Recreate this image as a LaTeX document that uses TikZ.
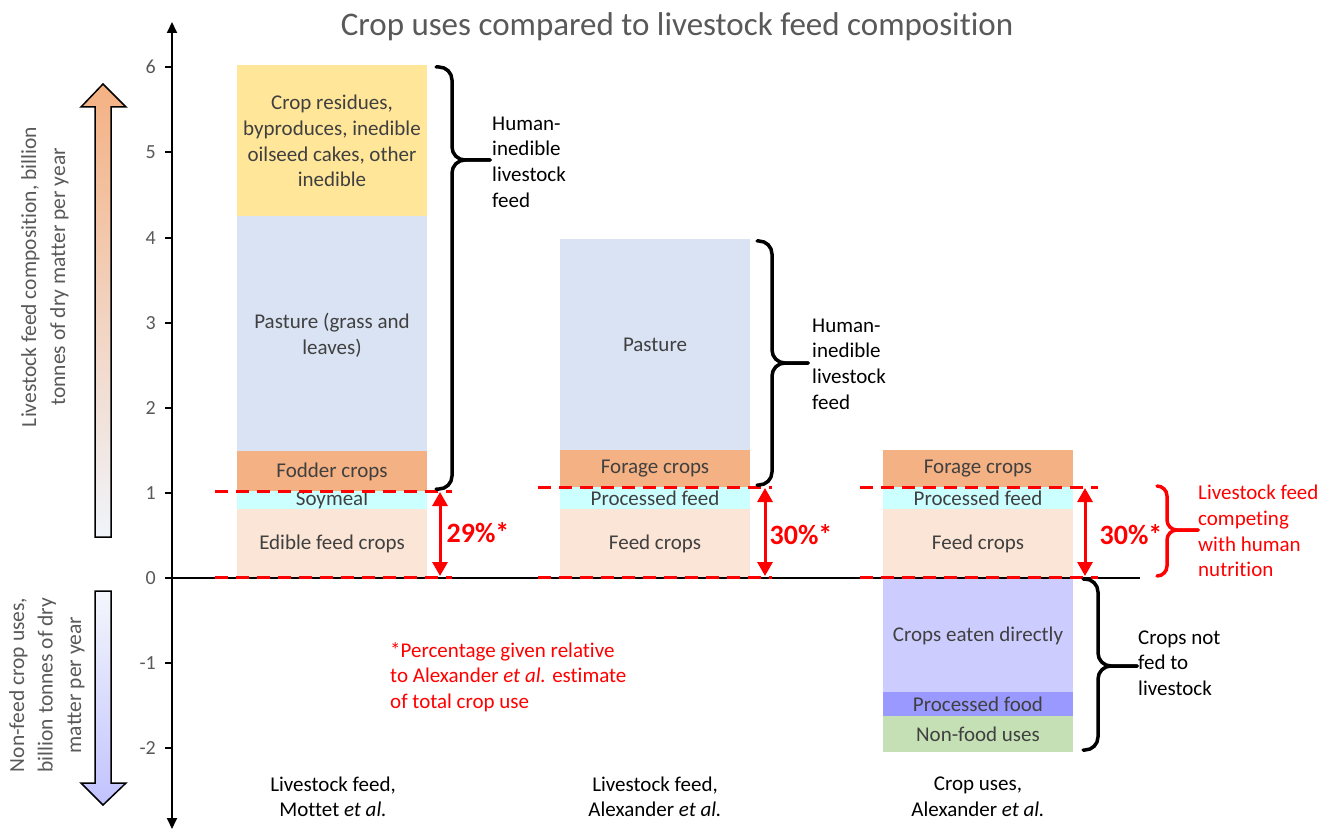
\documentclass[tikz,border=0pt]{standalone}
\usepackage{fontspec}
\setmainfont{Carlito}[Ligatures=NoCommon]
\usetikzlibrary{arrows.meta}
\definecolor{cresid}{HTML}{FFE699}
\definecolor{cpast}{HTML}{DAE3F3}
\definecolor{cfodd}{HTML}{F4B183}
\definecolor{csoy}{HTML}{CCFFFF}
\definecolor{cedib}{HTML}{FBE5D6}
\definecolor{ceat}{HTML}{CCCCFF}
\definecolor{cproc}{HTML}{9999FF}
\definecolor{cnonf}{HTML}{C5E0B4}
\definecolor{cred}{HTML}{FF0000}
\definecolor{tgray}{HTML}{595959}
\definecolor{tdark}{HTML}{404040}
\tikzset{
  barlab/.style={text=tdark, font=\fontsize{21}{25.7}\selectfont, align=center, inner sep=0pt},
  sidelab/.style={text=black, font=\fontsize{21}{25.7}\selectfont, align=left, inner sep=0pt, anchor=west},
  redlab/.style={text=cred, font=\fontsize{21}{25.7}\selectfont, align=left, inner sep=0pt, anchor=west},
  pct/.style={text=cred, font=\bfseries\fontsize{28}{30}\selectfont, inner sep=0pt},
  ticklab/.style={text=tgray, font=\fontsize{20}{22}\selectfont, inner sep=0pt, anchor=east},
  bottomlab/.style={text=black, font=\fontsize{21}{25.5}\selectfont, align=center, inner sep=0pt},
  reddash/.style={cred, line width=3pt, dash pattern=on 13pt off 8pt},
  redarrow/.style={cred, line width=3pt, {Triangle[width=15pt,length=14pt]}-{Triangle[width=15pt,length=14pt]}},
  bracestyle/.style={line width=3.5pt, rounded corners=13pt, line cap=round},
}
\begin{document}
\begin{tikzpicture}[x=1pt,y=-1pt]
\useasboundingbox (0,0) rectangle (1336,829);
\fill[white] (0,0) rectangle (1336,829);

% title
\node[text=tgray, font=\fontsize{33}{36}\selectfont, inner sep=0pt] (title) at (677,27) {Crop uses compared to livestock feed composition};

% side arrows
\shadedraw[top color=cfodd, bottom color=cpast!40!white, draw=black, line width=1.5pt]
  (95,537)--(95,107)--(81,107)--(103,84)--(126,107)--(111,107)--(111,537)--cycle;
\shadedraw[top color=cpast!30!white, bottom color=ceat!80!cproc, draw=black, line width=1.5pt]
  (95,591)--(111,591)--(111,783)--(126,783)--(103,805)--(81,783)--(95,783)--cycle;

\node[text=tgray, font=\fontsize{21.5}{29}\selectfont, align=center, rotate=90, inner sep=0pt] (ylabup) at (45,277)
  {Livestock feed composition, billion\\tonnes of dry matter per year};
\node[text=tgray, font=\fontsize{21.5}{28.5}\selectfont, align=center, rotate=90, inner sep=0pt] (ylabdown) at (47,685)
  {Non-feed crop uses,\\billion tonnes of dry\\matter per year};

% bars
\fill[cresid] (237,65) rectangle (427,216);
\fill[cpast] (237,216) rectangle (427,451);
\fill[cfodd] (237,451) rectangle (427,491);
\fill[csoy] (237,491) rectangle (427,509);
\fill[cedib] (237,509) rectangle (427,578);

\fill[cpast] (560,239) rectangle (750,450);
\fill[cfodd] (560,450) rectangle (750,487);
\fill[csoy] (560,487) rectangle (750,509);
\fill[cedib] (560,509) rectangle (750,578);

\fill[cfodd] (883,450) rectangle (1073,487);
\fill[csoy] (883,487) rectangle (1073,509);
\fill[cedib] (883,509) rectangle (1073,578);
\fill[ceat] (883,578) rectangle (1073,692);
\fill[cproc] (883,692) rectangle (1073,716);
\fill[cnonf] (883,716) rectangle (1073,752);

% bar labels
\node[barlab] (b1res) at (332,141) {Crop residues,\\byproduces, inedible\\oilseed cakes, other\\inedible};
\node[barlab] (b1past) at (332,335) {Pasture (grass and\\leaves)};
\node[barlab] (b1fod) at (332,472) {Fodder crops};
\node[barlab] (b1soy) at (332,500) {Soymeal};
\node[barlab] (b1edib) at (332,544) {Edible feed crops};

\node[barlab] (b2past) at (655,345) {Pasture};
\node[barlab] (b2for) at (655,469) {Forage crops};
\node[barlab] (b2proc) at (655,498) {Processed feed};
\node[barlab] (b2feed) at (655,544) {Feed crops};

\node[barlab] (b3for) at (978,469) {Forage crops};
\node[barlab] (b3proc) at (978,498) {Processed feed};
\node[barlab] (b3feed) at (978,544) {Feed crops};
\node[barlab] (b3eat) at (978,636) {Crops eaten directly};
\node[barlab] (b3pfood) at (978,704) {Processed food};
\node[barlab] (b3nonf) at (978,734) {Non-food uses};

% axis
\coordinate (axtop) at (172,22);
\coordinate (axbot) at (172,829);
\draw[line width=1.8pt, {Triangle[width=10pt,length=11pt]}-{Triangle[width=10pt,length=11pt]}] (axbot) -- (axtop);
\coordinate (zl) at (172,578);
\coordinate (zr) at (1140,578);
\draw[line width=1.5pt] (zl) -- (zr);
\foreach \v/\yy in {6/67,5/152,4/238,3/323,2/408,1/493,0/578,-1/663,-2/748}{
  \draw[line width=1.5pt] (165,\yy) -- (172,\yy);
  \node[ticklab] (tick\v) at (156,\yy) {\v};
}

% red dashed lines
\draw[reddash] (215,491) -- (452,491);
\draw[reddash] (215,577) -- (452,577);
\draw[reddash] (538,487) -- (772,487);
\draw[reddash] (538,577) -- (772,577);
\draw[reddash] (860,487) -- (1098,487);
\draw[reddash] (860,577) -- (1098,577);

% red double arrows
\coordinate (a1t) at (440,492); \coordinate (a1b) at (440,576);
\coordinate (a2t) at (765,488); \coordinate (a2b) at (765,576);
\coordinate (a3t) at (1085,488); \coordinate (a3b) at (1085,576);
\draw[redarrow] (a1t) -- (a1b);
\draw[redarrow] (a2t) -- (a2b);
\draw[redarrow] (a3t) -- (a3b);
\node[pct] (p1) at (478,533) {29\%*};
\node[pct] (p2) at (801,535) {30\%*};
\node[pct] (p3) at (1131,535) {30\%*};

% braces
\draw[bracestyle] (436,67) -- (452,67) -- (452,160) -- (490,160);
\draw[bracestyle] (490,160) -- (452,160) -- (452,489) -- (436,489);
\node[sidelab] (hi1) at (492,162) {Human-\\inedible\\livestock\\feed};

\draw[bracestyle] (757,241) -- (772,241) -- (772,363) -- (808,363);
\draw[bracestyle] (808,363) -- (772,363) -- (772,485) -- (757,485);
\node[sidelab] (hi2) at (812,364) {Human-\\inedible\\livestock\\feed};

\draw[bracestyle, cred, rounded corners=10pt] (1157,486) -- (1167,486) -- (1167,530) -- (1198,530);
\draw[bracestyle, cred, rounded corners=10pt] (1198,530) -- (1167,530) -- (1167,576) -- (1157,576);
\node[redlab] (compete) at (1198,531) {Livestock feed\\competing\\with human\\nutrition};

\draw[bracestyle] (1083,579) -- (1098,579) -- (1098,666) -- (1137,666);
\draw[bracestyle] (1137,666) -- (1098,666) -- (1098,750) -- (1083,750);
\node[sidelab] (notfed) at (1138,663) {Crops not\\fed to\\livestock};

% footnote
\node[redlab] (foot) at (390,677) {*Percentage given relative\\to Alexander \textit{et al.} estimate\\of total crop use};

% bottom labels
\node[bottomlab] (bl1) at (333,797) {Livestock feed,\\Mottet \textit{et al.}};
\node[bottomlab] (bl2) at (655,797) {Livestock feed,\\Alexander \textit{et al.}};
\node[bottomlab] (bl3) at (978,797) {Crop uses,\\Alexander \textit{et al.}};
\end{tikzpicture}
\end{document}
